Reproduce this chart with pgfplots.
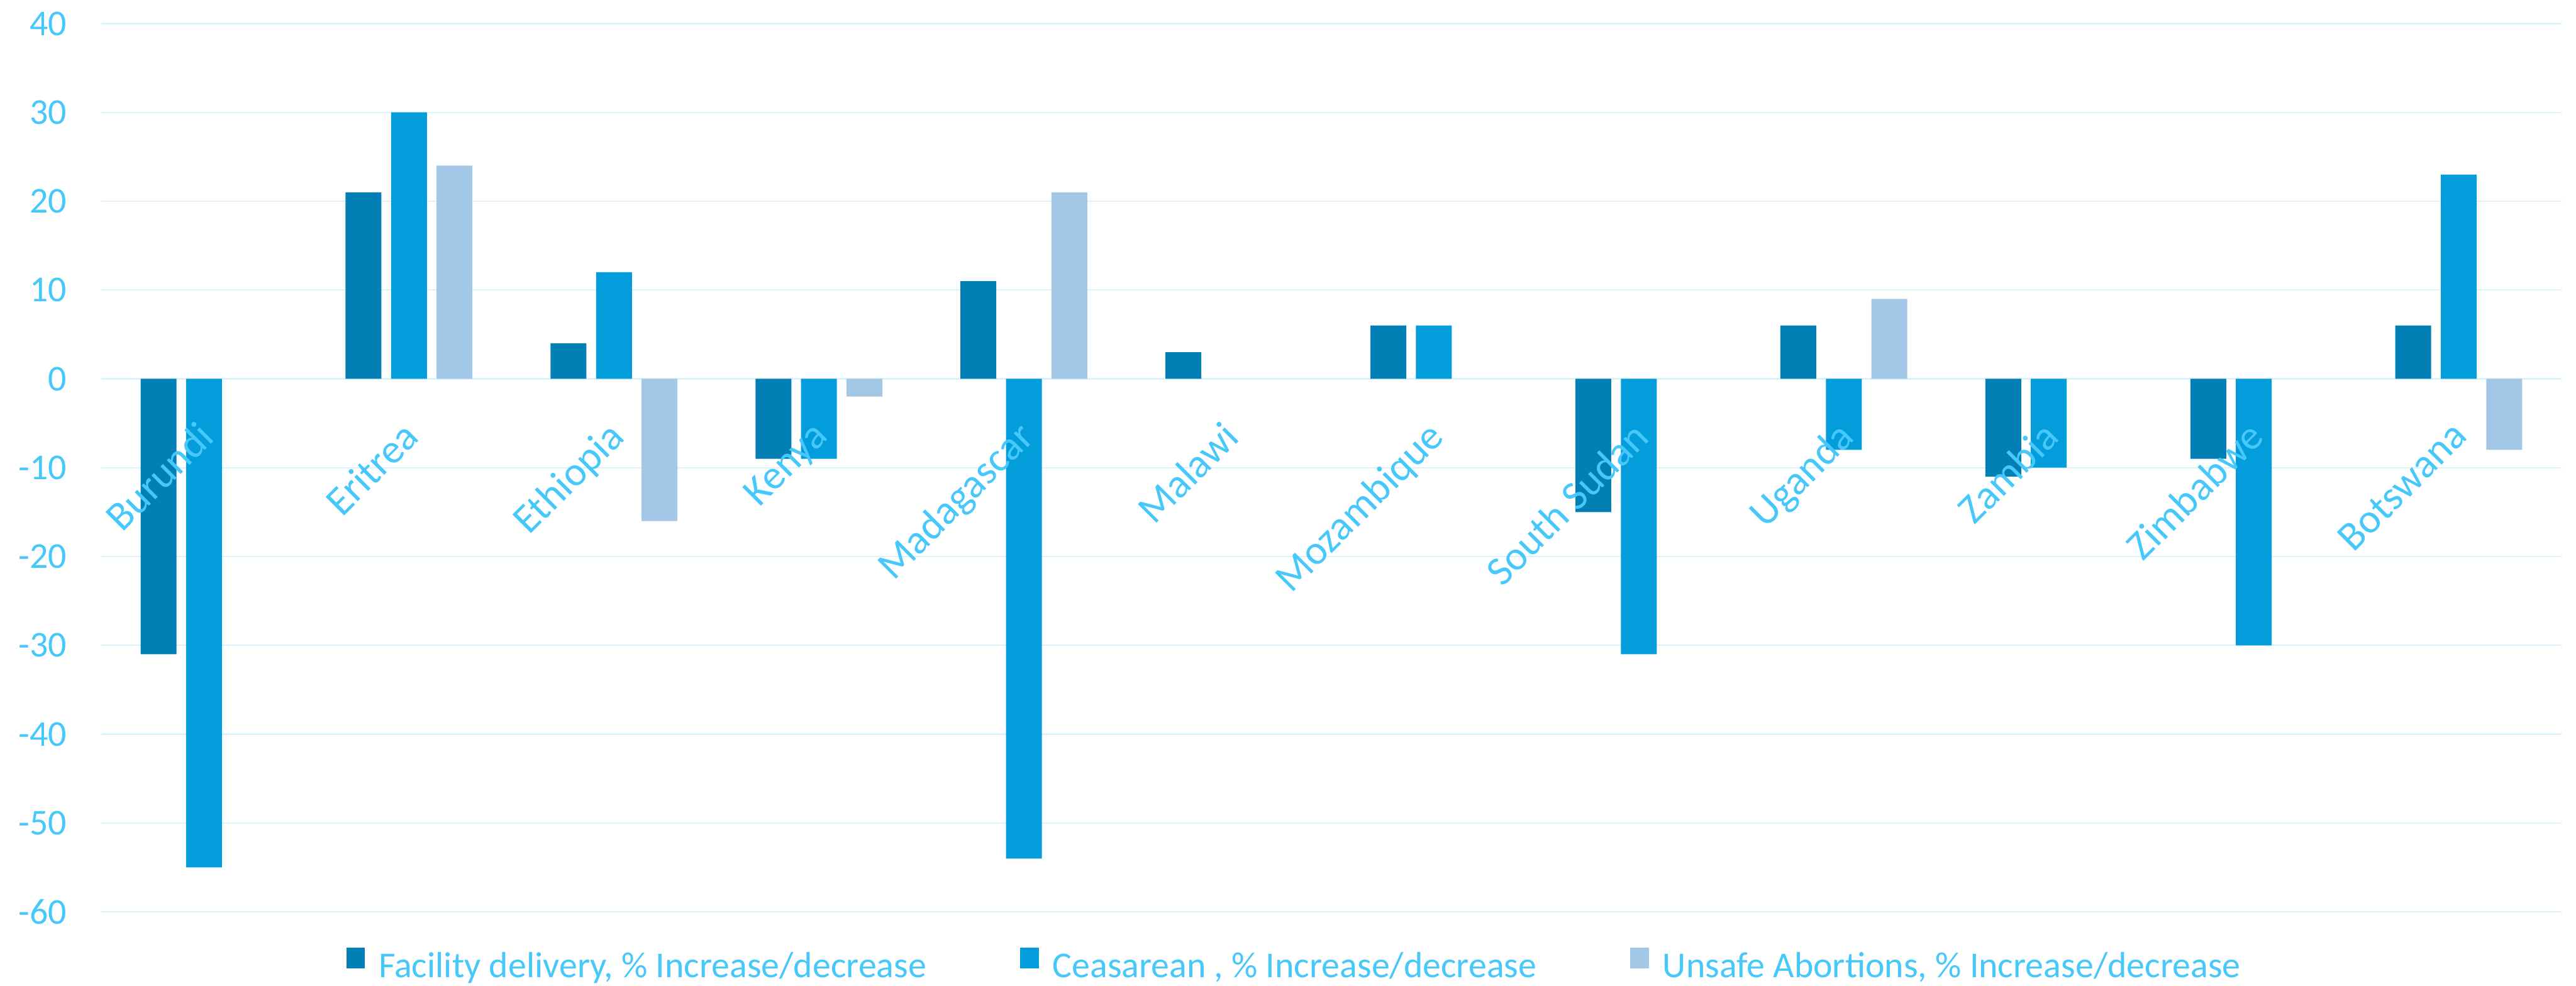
\documentclass[border=0pt]{standalone}
\usepackage{pgfplots}
\pgfplotsset{compat=1.18}
\usepackage{fontspec}
\setmainfont{Carlito}
\definecolor{cFac}{RGB}{2,127,181}
\definecolor{cCes}{RGB}{3,157,220}
\definecolor{cUns}{RGB}{163,199,231}
\definecolor{cTxt}{RGB}{70,200,250}
\definecolor{cGrid}{RGB}{217,242,252}
\pgfplotsset{
  sqlegend/.style={legend image code/.code={\fill[##1,/tikz/.cd,draw=none] (0pt,0pt) rectangle (4.125pt,4.5pt);}},
}
\tikzset{catlab/.style={font=\fontsize{9}{10.8}\selectfont, text=cTxt, inner sep=0pt, xshift=-1.8pt, yshift=-8.6pt, rotate=45, anchor=north east}}
\begin{document}
\begin{tikzpicture}
\useasboundingbox (0,0) rectangle (566pt,216.625pt);
\begin{axis}[
  at={(22.3125pt,16.25pt)}, anchor=south west,
  scale only axis, width=540.44pt, height=195.21pt,
  xmin=-0.5, xmax=11.5, ymin=-60, ymax=40,
  enlargelimits=false, clip=false,
  axis line style={draw=none},
  major tick length=0pt,
  ytick={-60,-50,-40,-30,-20,-10,0,10,20,30,40},
  yticklabels={-60,-50,-40,-30,-20,-10,0,10,20,30,40},
  yticklabel style={font=\fontsize{8}{9.6}\selectfont, text=cTxt, inner sep=0pt, anchor=east, xshift=-7.5pt},
  xtick=\empty,
  ymajorgrids, grid style={draw=cGrid, line width=0.3pt},
  ybar=2.125pt, bar width=7.875pt,
  legend columns=3,
  legend style={at={(0.0991,-0.0634)}, anchor=west, draw=none, fill=none,
    font=\fontsize{8}{9.6}\selectfont, text=cTxt, inner sep=0pt,
    /tikz/every odd column/.append style={column sep=1.0pt},
    /tikz/every even column/.append style={column sep=18.6pt}},
]
\addplot[fill=cFac, draw=none, sqlegend] coordinates {(0,-31)(1,21)(2,4)(3,-9)(4,11)(5,3)(6,6)(7,-15)(8,6)(9,-11)(10,-9)(11,6)};
\addplot[fill=cCes, draw=none, sqlegend] coordinates {(0,-55)(1,30)(2,12)(3,-9)(4,-54)(6,6)(7,-31)(8,-8)(9,-10)(10,-30)(11,23)};
\addplot[fill=cUns, draw=none, sqlegend] coordinates {(1,24)(2,-16)(3,-2)(4,21)(8,9)(11,-8)};
\addlegendentry{Facility delivery, \% Increase/decrease}
\addlegendentry{Ceasarean , \% Increase/decrease}
\addlegendentry{Unsafe Abortions, \% Increase/decrease}
\node[catlab] at (axis cs:0,0) {Burundi};
\node[catlab] at (axis cs:1,0) {Eritrea};
\node[catlab] at (axis cs:2,0) {Ethiopia};
\node[catlab] at (axis cs:3,0) {Kenya};
\node[catlab] at (axis cs:4,0) {Madagascar};
\node[catlab] at (axis cs:5,0) {Malawi};
\node[catlab] at (axis cs:6,0) {Mozambique};
\node[catlab] at (axis cs:7,0) {South Sudan};
\node[catlab] at (axis cs:8,0) {Uganda};
\node[catlab] at (axis cs:9,0) {Zambia};
\node[catlab] at (axis cs:10,0) {Zimbabwe};
\node[catlab] at (axis cs:11,0) {Botswana};
\end{axis}
\end{tikzpicture}
\end{document}
